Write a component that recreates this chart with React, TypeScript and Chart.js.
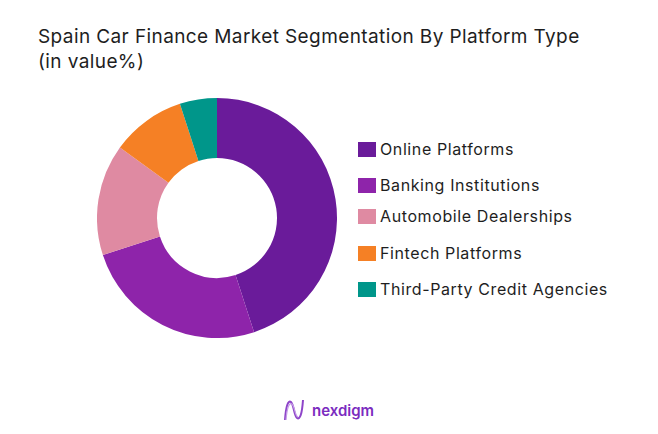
import React, { useEffect, useRef } from "react";
import { Chart, registerables } from "chart.js";

Chart.register(...registerables);

const categories = [
  "Online Platforms",
  "Banking Institutions",
  "Automobile Dealerships",
  "Fintech Platforms",
  "Third-Party Credit Agencies",
];
const values = [45, 25, 15, 10, 5];
const colors = ["#6A1B9A", "#8E24AA", "#DF8AA2", "#F58025", "#00968A"];
const legendRowCenters = [149, 185, 216, 253, 289];

const FONT = "Inter, 'Noto Sans', sans-serif";

export default function App() {
  const canvasRef = useRef<HTMLCanvasElement | null>(null);

  useEffect(() => {
    document.body.style.margin = "0";
    const ctx = canvasRef.current;
    if (!ctx) return;
    const chart = new Chart(ctx, {
      type: "doughnut",
      data: {
        labels: categories,
        datasets: [
          {
            data: values,
            backgroundColor: colors,
            borderWidth: 0,
          },
        ],
      },
      options: {
        animation: false,
        responsive: false,
        cutout: "50%",
        layout: { padding: 0 },
        plugins: {
          legend: { display: false },
          tooltip: { enabled: false },
        },
      },
    });
    return () => chart.destroy();
  }, []);

  return (
    <div
      style={{
        position: "relative",
        width: 658,
        height: 434,
        background: "#fff",
        fontFamily: FONT,
        overflow: "hidden",
      }}
    >
      <div
        style={{
          position: "absolute",
          left: 38,
          top: 24,
          fontSize: 19,
          lineHeight: "25px",
          color: "#1e1e1e",
          letterSpacing: 0.4,
        }}
      >
        Spain Car Finance Market Segmentation By Platform Type
        <br />
        (in value%)
      </div>
      <canvas
        ref={canvasRef}
        width={240}
        height={240}
        style={{ position: "absolute", left: 97, top: 98, width: 240, height: 240 }}
      />
      {categories.map((c, i) => (
        <div
          key={c}
          style={{
            position: "absolute",
            left: 358,
            top: legendRowCenters[i] - 10,
            height: 20,
            display: "flex",
            alignItems: "center",
            fontSize: 16,
            color: "#1e1e1e",
            whiteSpace: "nowrap",
            letterSpacing: 0.6,
          }}
        >
          <span
            style={{
              display: "inline-block",
              width: 18,
              height: 15,
              background: colors[i],
              marginRight: 4,
            }}
          />
          {c}
        </div>
      ))}
      <div
        style={{
          position: "absolute",
          left: 283,
          top: 398,
          display: "flex",
          alignItems: "center",
          color: "#7B2CBF",
          fontSize: 15,
          fontWeight: 600,
        }}
      >
        <svg width="22" height="24" viewBox="0 0 22 24" style={{ marginRight: 7 }}>
          <path
            d="M2 22 C3 8, 5 2, 8 4 C11 7, 11 18, 14 20 C17 22, 19 16, 20 2"
            fill="none"
            stroke="#8E44C9"
            strokeWidth="2"
          />
          <path
            d="M3 22 C4 10, 6 4, 9 6 C12 9, 12 18, 15 19"
            fill="none"
            stroke="#C49BE6"
            strokeWidth="1.2"
          />
        </svg>
        nexdigm
      </div>
    </div>
  );
}
